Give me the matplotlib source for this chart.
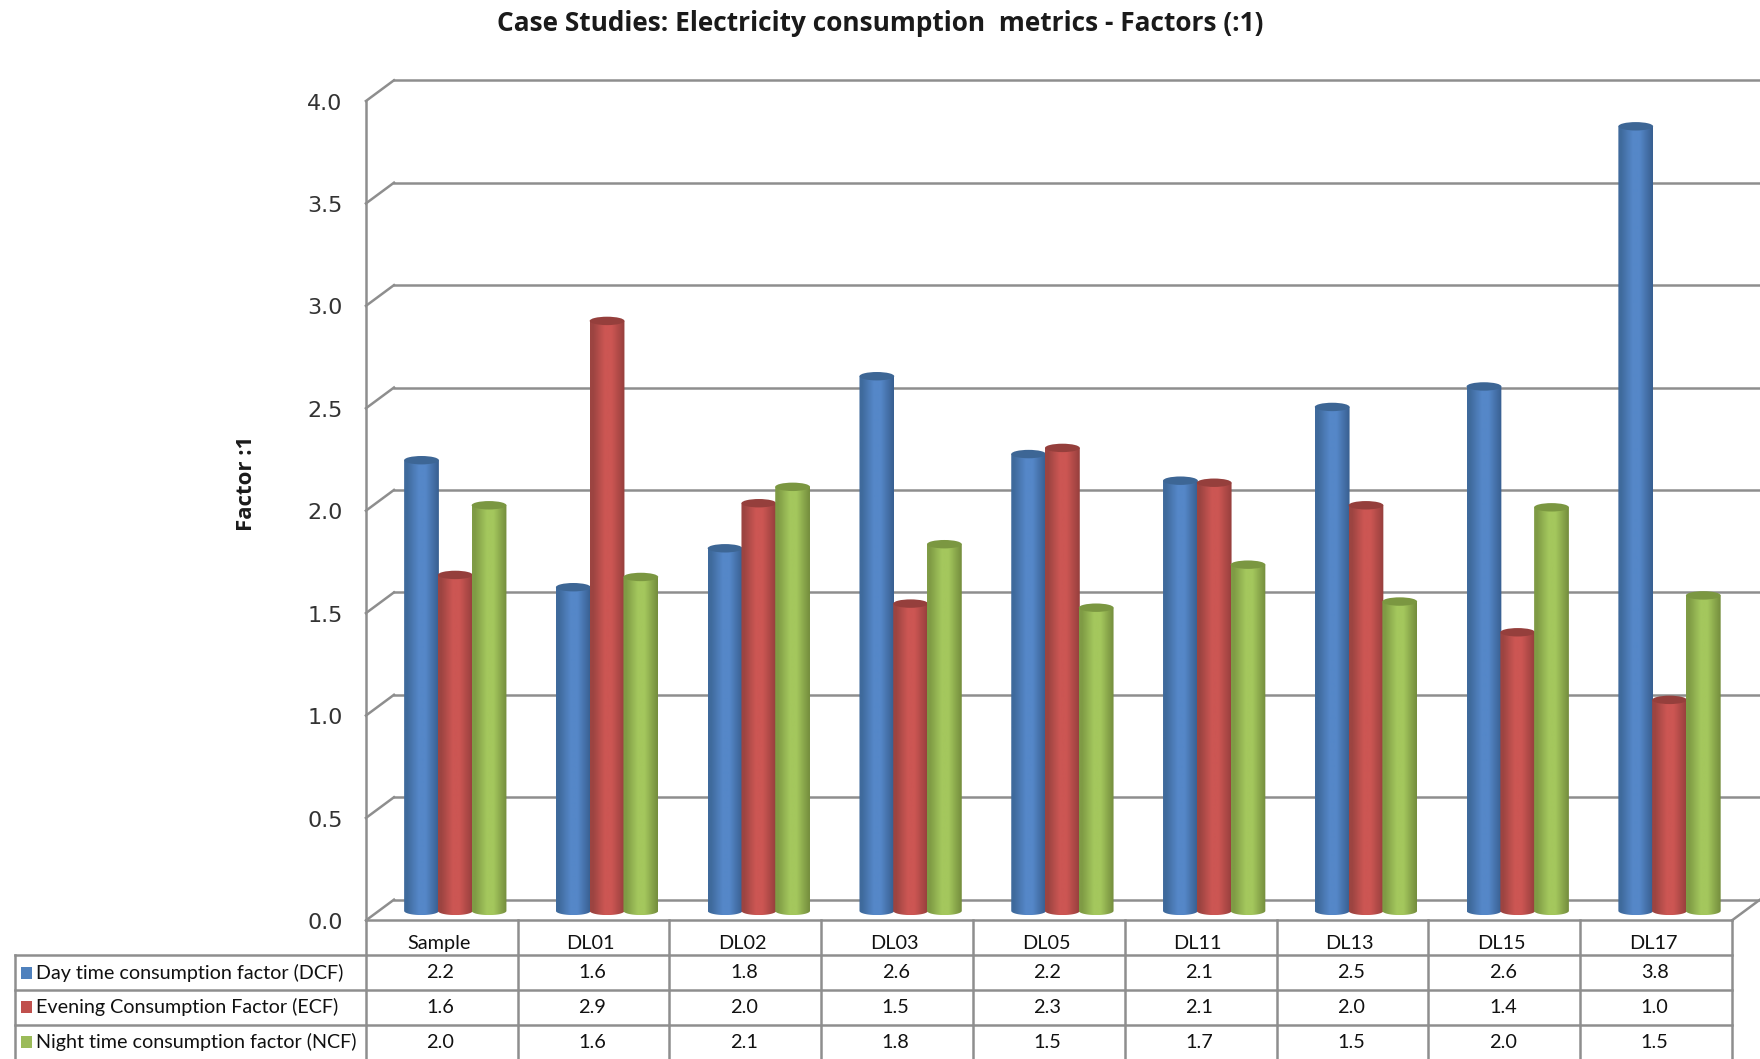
import numpy as np
import matplotlib
matplotlib.use("Agg")
import matplotlib.pyplot as plt
from matplotlib.patches import Ellipse, PathPatch, Rectangle
from matplotlib.path import Path
from matplotlib.transforms import Affine2D
from matplotlib.colors import LinearSegmentedColormap

categories = ["Sample", "DL01", "DL02", "DL03", "DL05", "DL11", "DL13", "DL15", "DL17"]
dcf = [2.20, 1.58, 1.77, 2.61, 2.23, 2.10, 2.46, 2.56, 3.83]
ecf = [1.64, 2.88, 1.99, 1.50, 2.26, 2.09, 1.98, 1.36, 1.03]
ncf = [1.98, 1.63, 2.07, 1.79, 1.48, 1.69, 1.51, 1.97, 1.54]
series_names = ["Day time consumption factor (DCF)",
                "Evening Consumption Factor (ECF)",
                "Night time consumption factor (NCF)"]
yticks = [0.0, 0.5, 1.0, 1.5, 2.0, 2.5, 3.0, 3.5, 4.0]

W, H = 1760, 1059
S = W / 1568.0
GRID = "#8e8e8e"
TXT = "#111111"
TABLE_FONT = ["Lato", "DejaVu Sans"]

fig = plt.figure(figsize=(W / 100, H / 100), dpi=100, facecolor="white")
# axes frame = front wall / table columns
x0, x1, ytop, ybot = 326 * S, 1543 * S, 90 * S, 820 * S
ax = fig.add_axes([x0 / W, 1 - ybot / H, (x1 - x0) / W, (ybot - ytop) / H])
ax.set_xlim(-0.5, 8.5)
ax.set_ylim(0, 4)
ax.patch.set_alpha(0)
for sp in ax.spines.values():
    sp.set_visible(False)
ax.set_xticks([])
ax.set_yticks(yticks)
ax.set_yticklabels([f"{t:.1f}" for t in yticks], fontsize=16, color="#333333", family="DejaVu Sans")
ax.tick_params(axis="y", length=0, pad=15 * S)
for lab in ax.get_yticklabels():
    lab.set_transform(lab.get_transform() + Affine2D().translate(0, -0.5 * S))

# vertical unit in data per display row
rowh = 31 * S / ((ybot - ytop) / 4)
back = ax.transData + Affine2D().translate(25 * S, 18.5 * S)
bar_tr = ax.transData + Affine2D().translate(12 * S, 8.5 * S)

# walls and gridlines
dep_x = 25 * S / ((x1 - x0) / 9)
dep_y = 18.5 * S / ((ybot - ytop) / 4)
lw = 1.8
for t in yticks:
    ax.plot([-0.5, 9.5], [t, t], color=GRID, lw=lw, transform=back, clip_on=False, zorder=1)
    ax.plot([-0.5, -0.5 + dep_x], [t, t + dep_y], color=GRID, lw=lw, clip_on=False, zorder=1)
ax.plot([-0.5, -0.5], [0, 4], color=GRID, lw=lw, clip_on=False, zorder=1)
ax.plot([8.5, 8.5 + dep_x], [0, dep_y], color=GRID, lw=lw, clip_on=False, zorder=1)

# cylinders
def cmap_for(edgeL, mid, edgeR):
    return LinearSegmentedColormap.from_list("c", [(0, edgeL), (0.08, edgeL), (0.42, mid), (0.62, mid), (1, edgeR)])

styles = [(cmap_for("#3f6a9c", "#5587c8", "#385f90"), "#3d6695"),
          (cmap_for("#9c4441", "#cc5653", "#963f3d"), "#953f3c"),
          (cmap_for("#7f9b45", "#a4c75d", "#748d3d"), "#7b9741")]
grad = np.linspace(0, 1, 64).reshape(1, -1)
bw = 0.229
step = 0.2225
eh = 7.5 * S / ((ybot - ytop) / 4)
for k, vals in enumerate([dcf, ecf, ncf]):
    (cm, topc) = styles[k]
    for i, v in enumerate(vals):
        xc = i + (k - 1) * step
        l, r = xc - bw / 2, xc + bw / 2
        im = ax.imshow(grad, extent=[l, r, -eh / 2, v], aspect="auto", cmap=cm, vmin=0, vmax=1,
                       transform=bar_tr, zorder=3 + k * 0.1, interpolation="bilinear")
        t = np.linspace(np.pi, 2 * np.pi, 30)
        xs = xc + bw / 2 * np.cos(t)
        ys = eh / 2 * np.sin(t)
        verts = np.vstack([[[l, v]], np.column_stack([xs, ys]), [[r, v]], [[l, v]]])
        clip = PathPatch(Path(verts), transform=bar_tr, fc="none", ec="none")
        ax.add_patch(clip)
        im.set_clip_path(clip)
        ax.add_patch(Ellipse((xc, v), bw, eh, fc=topc, ec="none", transform=bar_tr, zorder=3.05 + k * 0.1, clip_on=False))
ax.set_xlim(-0.5, 8.5)
ax.set_ylim(0, 4)

# data table
row_y = [-rowh * n for n in range(4)]
lc = dict(color=GRID, lw=lw, clip_on=False, zorder=2)
ax.plot([-0.5, 8.5], [0, 0], **lc)
left = -0.5 - (326 - 13) / 135.2
for n in range(1, 4):
    ax.plot([left, 8.5], [row_y[n]] * 2, **lc)
bottom = -(943 - 820) * S / ((ybot - ytop) / 4) - 0.02
for j in range(10):
    ax.plot([j - 0.5] * 2, [0, bottom], **lc)
ax.plot([left, left], [row_y[1], bottom], **lc)

for i, c in enumerate(categories):
    ax.text(i - 0.02, -rowh * 0.66, c, ha="center", va="center", fontsize=14.3, color=TXT, family=TABLE_FONT, clip_on=False)
    for k, vals in enumerate([dcf, ecf, ncf]):
        ax.text(i - 0.01, -rowh * (1.5 + k), f"{vals[i]:.1f}", ha="center", va="center",
                fontsize=14.3, color=TXT, family=TABLE_FONT, clip_on=False)
legcols = ["#4f81bd", "#c0504d", "#9bbb59"]
swx = left + 6 / 135.2
sww = 10 / 135.2
for k, name in enumerate(series_names):
    yc = -rowh * (1.5 + k)
    ax.add_patch(Rectangle((swx, yc - rowh * 0.17), sww, rowh * 0.34, fc=legcols[k], ec="none", clip_on=False, zorder=3))
    ax.text(left + 19 / 135.2, yc, name, ha="left", va="center", fontsize=14.2, color=TXT,
            family=TABLE_FONT, clip_on=False)

fig.text(784 * S / W, 1 - 21 * S / H, "Case Studies: Electricity consumption  metrics - Factors (:1)",
         ha="center", va="center", fontsize=18.9, fontweight="bold", color="#1a1a1a", family=["Open Sans", "DejaVu Sans"])
fig.text(219.5 * S / W, 1 - 431 * S / H, "Factor :1", rotation=90, ha="center", va="center",
         fontsize=16, fontweight="bold", color="#1a1a1a", family=["Open Sans", "DejaVu Sans"])

fig.savefig("out.png", dpi=100, facecolor="white")
